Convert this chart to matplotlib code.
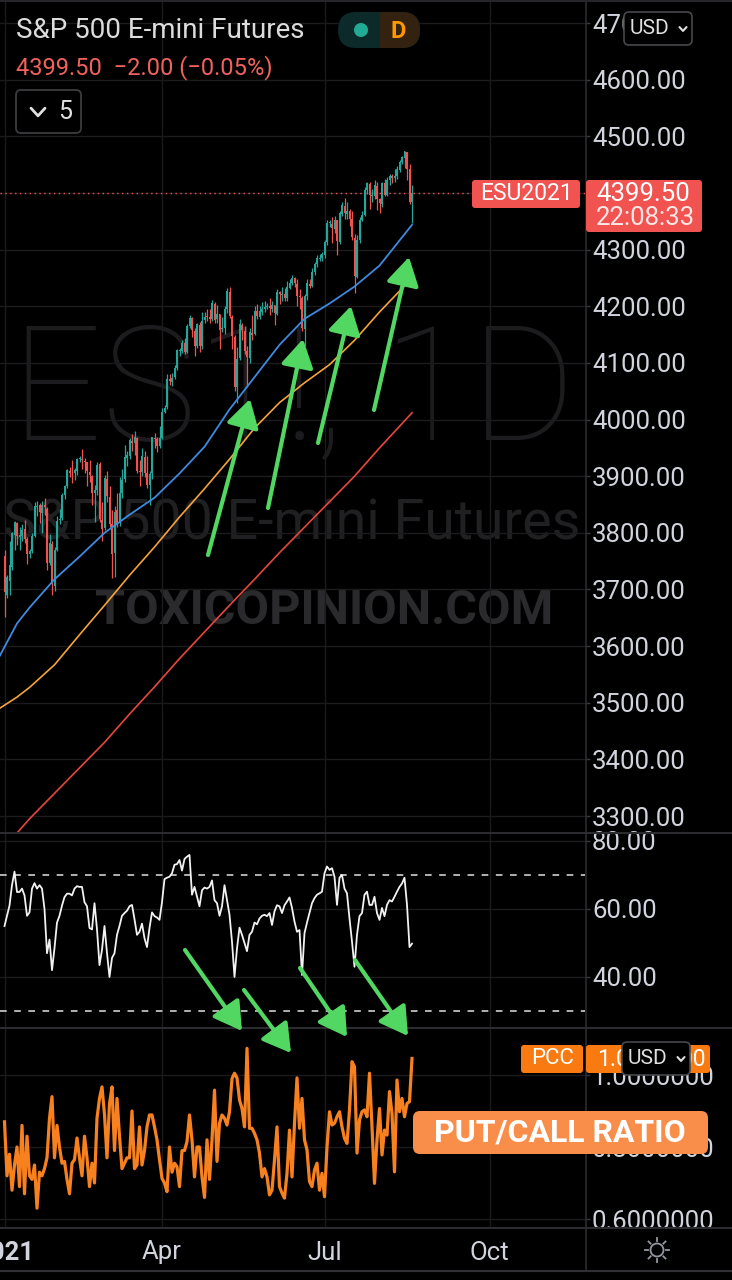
import numpy as np
import pandas as pd
import matplotlib
matplotlib.use("Agg")
import matplotlib.pyplot as plt
import matplotlib.transforms as mtransforms
from matplotlib.patches import FancyBboxPatch, FancyArrowPatch, Circle, Rectangle
from matplotlib.lines import Line2D

plt.rcParams["font.family"] = ["Roboto", "DejaVu Sans"]

# ---------------- data ----------------
symbol = "S&P 500 E-mini Futures"
quote = "4399.50  \u22122.00 (\u22120.05%)"
last_price = 4399.50
countdown = "22:08:33"
contract = "ESU2021"

# daily ES bars, Jan 4 .. Aug 19 2021 (one row per week)
opens = [
    3760, 3690, 3715, 3740, 3797,  3818, 3793, 3795, 3806, 3790,
    3763, 3768, 3795, 3846, 3849,  3835, 3850, 3843, 3746, 3781,
    3706, 3770, 3822, 3826, 3866,  3882, 3910, 3906, 3905, 3910,
    3930, 3931, 3927, 3925, 3908,  3900, 3870, 3875, 3921, 3823,
    3808, 3896, 3864, 3815, 3764,  3840, 3818, 3870, 3895, 3933,
    3936, 3963, 3958, 3968, 3909,  3907, 3934, 3906, 3885, 3905,
    3968, 3965, 3953, 3968, 4014,  4022, 4072, 4067, 4075, 4091,
    4122, 4121, 4136, 4120, 4166,  4180, 4157, 4130, 4167, 4130,
    4176, 4182, 4181, 4178, 4205,  4177, 4186, 4160, 4161, 4195,
    4226, 4182, 4146, 4058, 4108,  4167, 4157, 4121, 4109, 4153,
    4151, 4192, 4182, 4190, 4195,  4199, 4200, 4196, 4203, 4187,
    4225, 4220, 4222, 4214, 4233,  4242, 4250, 4240, 4218, 4215,
    4160, 4218, 4240, 4236, 4260,  4275, 4284, 4286, 4291, 4313,
    4347, 4346, 4337, 4352, 4314,  4363, 4378, 4363, 4368, 4354,
    4321, 4252, 4317, 4352, 4362,  4405, 4416, 4395, 4394, 4413,
    4389, 4381, 4417, 4396, 4423,  4430, 4426, 4430, 4441, 4455,
    4462, 4473, 4442, 4384,
]
highs = [
    3770, 3725, 3785, 3802, 3821,  3820, 3810, 3815, 3822, 3792,
    3772, 3800, 3855, 3856, 3852,  3856, 3862, 3845, 3798, 3785,
    3775, 3830, 3842, 3870, 3885,  3913, 3917, 3928, 3914, 3933,
    3936, 3948, 3932, 3925, 3928,  3903, 3885, 3925, 3925, 3855,
    3902, 3910, 3882, 3840, 3848,  3870, 3898, 3913, 3955, 3945,
    3968, 3975, 3980, 3970, 3928,  3950, 3945, 3935, 3910, 3970,
    3976, 3970, 3988, 4020, 4026,  4080, 4080, 4082, 4097, 4125,
    4127, 4140, 4145, 4168, 4185,  4181, 4162, 4170, 4172, 4190,
    4190, 4195, 4196, 4212, 4208,  4202, 4186, 4182, 4200, 4232,
    4234, 4184, 4150, 4128, 4178,  4170, 4165, 4130, 4162, 4185,
    4201, 4205, 4200, 4208, 4210,  4206, 4214, 4210, 4203, 4230,
    4228, 4235, 4232, 4244, 4248,  4256, 4252, 4248, 4230, 4218,
    4222, 4248, 4249, 4268, 4279,  4290, 4293, 4296, 4318, 4352,
    4352, 4358, 4360, 4352, 4368,  4384, 4391, 4385, 4372, 4368,
    4328, 4326, 4358, 4368, 4410,  4420, 4419, 4408, 4424, 4419,
    4391, 4420, 4425, 4428, 4434,  4433, 4443, 4447, 4458, 4465,
    4475, 4473, 4452, 4414,
]
lows = [
    3652, 3685, 3690, 3735, 3770,  3778, 3770, 3785, 3782, 3745,
    3755, 3765, 3792, 3830, 3818,  3800, 3832, 3735, 3744, 3690,
    3698, 3768, 3815, 3822, 3860,  3880, 3898, 3888, 3893, 3902,
    3925, 3913, 3905, 3882, 3890,  3850, 3820, 3867, 3820, 3785,
    3805, 3855, 3810, 3720, 3722,  3810, 3812, 3862, 3890, 3918,
    3930, 3945, 3938, 3905, 3882,  3900, 3898, 3880, 3850, 3895,
    3950, 3943, 3950, 3965, 4012,  4018, 4062, 4060, 4072, 4087,
    4113, 4118, 4116, 4118, 4162,  4146, 4112, 4127, 4120, 4125,
    4170, 4175, 4170, 4174, 4170,  4170, 4125, 4155, 4152, 4188,
    4180, 4125, 4050, 4030, 4105,  4140, 4115, 4058, 4100, 4140,
    4150, 4178, 4178, 4185, 4190,  4195, 4185, 4190, 4167, 4185,
    4205, 4210, 4210, 4210, 4230,  4238, 4235, 4200, 4195, 4156,
    4130, 4212, 4232, 4235, 4255,  4270, 4280, 4280, 4286, 4308,
    4340, 4312, 4330, 4290, 4310,  4360, 4355, 4355, 4342, 4318,
    4224, 4250, 4312, 4350, 4360,  4398, 4372, 4385, 4390, 4370,
    4365, 4375, 4395, 4395, 4414,  4418, 4420, 4425, 4438, 4452,
    4445, 4423, 4380, 4347,
]
closes = [
    3695, 3722, 3743, 3799, 3820,  3795, 3796, 3805, 3790, 3763,
    3768, 3794, 3847, 3848, 3836,  3850, 3845, 3746, 3782, 3709,
    3769, 3821, 3825, 3867, 3882,  3911, 3906, 3905, 3911, 3930,
    3932, 3928, 3926, 3909, 3902,  3871, 3876, 3920, 3824, 3806,
    3897, 3865, 3815, 3763, 3837,  3816, 3870, 3894, 3934, 3938,
    3964, 3958, 3969, 3910, 3908,  3935, 3905, 3884, 3904, 3969,
    3966, 3953, 3967, 4014, 4020,  4072, 4068, 4074, 4092, 4123,
    4122, 4136, 4119, 4165, 4180,  4158, 4130, 4168, 4130, 4175,
    4182, 4181, 4178, 4206, 4176,  4187, 4159, 4162, 4196, 4227,
    4183, 4147, 4058, 4107, 4168,  4158, 4122, 4110, 4154, 4150,
    4192, 4183, 4191, 4195, 4199,  4200, 4197, 4203, 4188, 4225,
    4221, 4222, 4214, 4234, 4242,  4250, 4241, 4218, 4216, 4161,
    4219, 4241, 4236, 4261, 4275,  4285, 4286, 4292, 4314, 4347,
    4347, 4338, 4353, 4315, 4364,  4379, 4364, 4369, 4355, 4322,
    4253, 4318, 4353, 4362, 4406,  4417, 4396, 4395, 4414, 4390,
    4382, 4418, 4397, 4424, 4431,  4427, 4431, 4442, 4455, 4463,
    4474, 4443, 4385, 4399.5,
]

# moving averages (50 / 100 / 200), sampled about weekly
ma_dates = ["2020-12-31", "2021-01-11", "2021-01-18", "2021-02-01", "2021-02-15", "2021-03-01",
            "2021-03-15", "2021-03-29", "2021-04-12", "2021-04-26", "2021-05-10",
            "2021-05-24", "2021-06-07", "2021-06-21", "2021-07-05", "2021-07-19",
            "2021-08-02", "2021-08-19"]
ma50 = [3582, 3640, 3668, 3718, 3758, 3800, 3832, 3862, 3905, 3952, 4018,
        4075, 4132, 4178, 4205, 4235, 4272, 4344]
ma100 = [3490, 3510, 3527, 3567, 3620, 3672, 3725, 3775, 3828, 3878, 3930,
         3985, 4030, 4065, 4097, 4140, 4190, 4250]
ma200 = [3245, 3270, 3295, 3340, 3385, 3430, 3480, 3528, 3578, 3625, 3672,
         3718, 3765, 3810, 3855, 3900, 3950, 4012]

rsi = [
    55, 58, 61, 67, 71,  65, 65, 66, 64, 58,
    59, 66, 67.6, 66, 67,  66, 60, 47, 51, 42,
    48.5, 56, 58, 61, 63.5,  64.5, 64.5, 64, 66, 66.7,
    66.5, 66.5, 62, 60.8, 54.4,  54, 61.7, 54, 43.5, 48,
    55, 47, 40, 45.6, 47,  52.4, 55, 58, 58.8, 59.5,
    60.8, 61.2, 57, 52.4, 53.3,  55.7, 51.4, 48.8, 54.4, 59,
    57.9, 57.5, 56.8, 62, 68.8,  69.2, 69.5, 70.5, 73, 73.2,
    74.4, 71.3, 74.7, 75.4, 75.9,  64.2, 66.5, 63.6, 60.8, 65.5,
    66.3, 66, 66.5, 68.4, 62.6,  61.7, 58, 60.8, 67, 62.6,
    58.3, 50.4, 40, 48.4, 54.5,  52.4, 50, 47.6, 52.4, 53.3,
    56, 55.5, 57.2, 58, 58.3,  57.9, 58.8, 55.3, 59.3, 61.1,
    60.8, 58.8, 61.1, 62.2, 63.4,  60.3, 56.3, 53.3, 53.8, 40.6,
    52.9, 56, 58.8, 61.7, 63.2,  64.2, 64.6, 65.1, 70.5, 72.5,
    71.5, 72, 69.5, 61.2, 69.2,  70, 66, 64.6, 57.2, 50.4,
    43, 52.4, 57.9, 58.8, 64.2,  65.1, 61.2, 61.2, 63.6, 58.8,
    56.8, 60.3, 57.9, 61.2, 62.6,  62.2, 63.6, 65.1, 66.5, 67.5,
    69.2, 61.2, 48.8, 49.8,
]

pcc = [
    0.87, 0.72, 0.78, 0.68, 0.75,  0.80, 0.69, 0.86, 0.67, 0.83,
    0.72, 0.71, 0.75, 0.63, 0.73,  0.72, 0.74, 0.77, 0.88, 0.94,
    0.77, 0.86, 0.80, 0.755, 0.76,  0.71, 0.67, 0.755, 0.765, 0.825,
    0.77, 0.72, 0.83, 0.77, 0.69,  0.755, 0.70, 0.88, 0.935, 0.967,
    0.89, 0.77, 0.92, 0.967, 0.79,  0.935, 0.83, 0.74, 0.755, 0.77,
    0.77, 0.90, 0.74, 0.75, 0.856,  0.75, 0.79, 0.856, 0.889, 0.889,
    0.856, 0.82, 0.765, 0.713, 0.70,  0.676, 0.80, 0.73, 0.755, 0.745,
    0.69, 0.79, 0.79, 0.815, 0.889,  0.82, 0.717, 0.80, 0.80, 0.717,
    0.66, 0.82, 0.71, 0.82, 0.958,  0.76, 0.866, 0.889, 0.88, 0.861,
    0.898, 0.99, 1.005, 0.992, 0.931,  0.907, 0.856, 1.074, 0.852, 0.852,
    0.838, 0.82, 0.783, 0.717, 0.74,  0.717, 0.667, 0.68, 0.764, 0.856,
    0.69, 0.672, 0.658, 0.727, 0.847,  0.717, 0.866, 0.992, 0.852, 0.935,
    0.82, 0.792, 0.704, 0.69, 0.736,  0.755, 0.68, 0.727, 0.662, 0.80,
    0.898, 0.861, 0.866, 0.884, 0.898,  0.856, 0.824, 0.81, 0.903, 1.037,
    1.023, 0.783, 0.875, 0.898, 0.903,  0.884, 1.005, 0.856, 0.699, 0.82,
    0.907, 0.778, 0.847, 0.833, 0.954,  0.893, 0.731, 0.986, 0.898, 0.935,
    0.884, 0.921, 0.926, 1.046,
]
pcc_last = "1.0460000"

tick_dates = ["2021-01-04", "2021-04-01", "2021-07-01", "2021-10-01"]
tick_labels = ["2021", "Apr", "Jul", "Oct"]
price_ticks = list(range(3300, 4800, 100))
rsi_ticks = [40, 60, 80]
pcc_ticks = [0.6, 0.8, 1.0]

# ---------------- colours ----------------
BG = "#000000"
TXT = "#d1d4dc"
GRID = "#1b1b1e"
SEP = "#2b2b30"
UP = "#26a69a"
DOWN = "#ef5350"
TAG = "#f05350"
GREEN = "#52d862"

bar_dates = pd.bdate_range("2021-01-04", "2021-08-19")
calendar = pd.bdate_range("2020-12-31", "2021-10-29")
assert len(bar_dates) == len(closes) == len(opens) == len(highs) == len(lows) == len(rsi) == len(pcc)
x = calendar.get_indexer(bar_dates)
ma_x = calendar.get_indexer(pd.to_datetime(ma_dates))
tick_x = calendar.get_indexer(pd.to_datetime(tick_dates))

o = np.array(opens, float)
h = np.array(highs, float)
l = np.array(lows, float)
c = np.array(closes, float)

W, H = 732, 1280
AX_R = 585
LBL = 18.5
fig = plt.figure(figsize=(W / 100, H / 100), dpi=100, facecolor=BG)
px = mtransforms.Affine2D().scale(1 / W, -1 / H).translate(0, 1) + fig.transFigure


def pane(top, bottom, ylim, yticks, fmt):
    ax = fig.add_axes([0, 1 - bottom / H, AX_R / W, (bottom - top) / H])
    ax.set_facecolor("none")
    ax.set_xlim(0.2, 234.2)
    ax.set_ylim(*ylim)
    ax.set_xticks(tick_x)
    ax.set_yticks(yticks)
    ax.set_yticklabels([fmt.format(v) for v in yticks])
    ax.yaxis.tick_right()
    ax.tick_params(axis="y", length=3.5, width=1, color="#3a3a3e", pad=1.5,
                   labelsize=LBL, labelcolor=TXT)
    ax.tick_params(axis="x", length=0, labelbottom=False)
    ax.grid(True, color=GRID, lw=1)
    ax.set_axisbelow(True)
    for s in ax.spines.values():
        s.set_visible(False)
    return ax


ax_p = pane(0, 833, (3270, 4741), price_ticks, "{:.2f}")
ax_r = pane(833, 1028, (25.0, 82.35), rsi_ticks, "{:.2f}")
ax_c = pane(1028, 1228, (0.575, 1.1306), pcc_ticks, "{:.7f}")

# watermark
wm = dict(transform=px, ha="center", zorder=-1)
fig.text(293, 440, "ES1!, 1D", fontsize=115, fontweight="light", color="#1c1c1e", va="baseline", **wm)
fig.text(292, 540, symbol, fontsize=40, color="#202022", va="baseline", **wm)
fig.text(324, 624, "TOXICOPINION.COM", fontsize=35, fontweight="bold", color="#2a2a2c",
         va="baseline", **wm)

# candles
col = np.where(c >= o, UP, DOWN)
ax_p.vlines(x, l, h, colors=col, lw=0.9, zorder=2)
body = np.maximum(np.abs(c - o), 1.5)
ax_p.bar(x, body, bottom=np.minimum(o, c), width=0.62, color=col, lw=0, zorder=2)

ax_p.plot(ma_x, ma50, color="#3f8ae0", lw=1.3, zorder=3)
ax_p.plot(ma_x, ma100, color="#f5a43a", lw=1.2, zorder=3)
ax_p.plot(ma_x, ma200, color="#e8463f", lw=1.2, zorder=3)
ax_p.axhline(last_price, color=TAG, lw=1, ls=(0, (1, 2.5)), zorder=1)

# RSI
ax_r.plot(x, rsi, color="#f2f2f2", lw=1.3, zorder=3)
for lvl in (70, 30):
    ax_r.axhline(lvl, color="#cfcfcf", lw=1.2, dashes=(4, 4.5), zorder=2)

# put / call
ax_c.plot(x, pcc, color="#f7801f", lw=2.3, zorder=3)
ax_c.tick_params(axis="x", labelbottom=True, labelsize=LBL, labelcolor=TXT, pad=9)
ax_c.set_xticklabels(tick_labels)
ax_c.get_xticklabels()[0].set_fontweight("bold")

# separators
for yy in (833, 1028, 1228):
    fig.add_artist(Line2D([0, W], [yy, yy], transform=px, color=SEP, lw=1.5, zorder=2))
fig.add_artist(Line2D([AX_R + 0.5, AX_R + 0.5], [0, 1270], transform=px, color=SEP, lw=1.2, zorder=2))
fig.add_artist(Line2D([0, W], [1271, 1271], transform=px, color="#303034", lw=1.5, zorder=2))
fig.add_artist(Line2D([0, W], [0.5, 0.5], transform=px, color="#26262a", lw=1.5, zorder=2))


def box(x0, y0, w, h, fc, ec="none", r=4, lw=1.0, z=6):
    fig.add_artist(FancyBboxPatch((x0, y0), w, h, boxstyle=f"round,pad=0,rounding_size={r}",
                                  transform=px, fc=fc, ec=ec, lw=lw, zorder=z))


def chevron(cx, cy, s, color, lw):
    fig.add_artist(Line2D([cx - s, cx, cx + s], [cy - s * 0.55, cy + s * 0.55, cy - s * 0.55],
                          transform=px, color=color, lw=lw, solid_capstyle="round", zorder=9))


# header
fig.text(16, 30, symbol, transform=px, fontsize=20, color="#dcdcdc", va="center", zorder=7)
fig.text(16, 68, quote, transform=px, fontsize=17, color="#f0625d", va="center", zorder=7)
box(16, 90, 65, 43, "none", "#3c3c40", r=5, lw=1.3)
chevron(38, 112, 7, "#e0e0e0", 2)
fig.text(65, 112, "5", transform=px, fontsize=18, color="#e0e0e0", ha="center", va="center", zorder=7)

# interval badge
box(338, 12, 82, 36, "#0d2a2a", r=18)
fig.add_artist(Rectangle((380, 12), 22, 36, transform=px, fc="#33220f", ec="none", zorder=6.1))
box(384, 12, 36, 36, "#33220f", r=18, z=6.1)
fig.add_artist(Circle((361, 30), 7, transform=px, fc="#22ab94", ec="none", zorder=7))
fig.text(398, 31, "D", transform=px, fontsize=17, fontweight="bold", color="#ff9800",
         ha="center", va="center", zorder=7)


def usd_button(x0, y0):
    box(x0, y0, 68, 33, "#000000", "#48484c", r=5, lw=1.2, z=8)
    fig.text(x0 + 6, y0 + 17, "USD", transform=px, fontsize=15, color="#e0e0e0", va="center", zorder=9)
    chevron(x0 + 59, y0 + 17, 3.5, "#e0e0e0", 1.5)


usd_button(624, 12)

# last price tags
box(472, 180, 108, 28, TAG, r=3)
fig.text(526, 194, contract, transform=px, fontsize=16.5, color="#ffffff", ha="center", va="center", zorder=7)
box(586, 180, 116, 52, TAG, r=3)
fig.text(596, 194, f"{last_price:.2f}", transform=px, fontsize=LBL, color="#ffffff", va="center", zorder=7)
fig.text(596, 218, countdown, transform=px, fontsize=LBL, color="#fde7e6", va="center", zorder=7)

# PCC tag
box(521, 1045, 62, 28, "#f97a10", r=3)
box(586, 1045, 124, 28, "#f97a10", r=3)
fig.text(531, 1059, "PCC", transform=px, fontsize=16, color="#ffffff", va="center", zorder=7)
fig.text(597, 1059, pcc_last, transform=px, fontsize=16.5, color="#ffffff", va="center", zorder=7)
usd_button(622, 1042)

# PUT/CALL RATIO label
box(413, 1111, 295, 43, "#f98e4b", r=7)
fig.text(560, 1133, "PUT/CALL RATIO", transform=px, fontsize=23, fontweight="bold", color="#ffffff",
         ha="center", va="center", zorder=7)

# settings icon
fig.add_artist(Circle((657, 1250), 6.5, transform=px, fc="none", ec="#9598a1", lw=1.3, zorder=7))
for ang in np.deg2rad(np.arange(0, 360, 45)):
    fig.add_artist(Line2D([657 + 9 * np.cos(ang), 657 + 12 * np.cos(ang)],
                          [1250 + 9 * np.sin(ang), 1250 + 12 * np.sin(ang)],
                          transform=px, color="#9598a1", lw=1.3, zorder=7))

# hand drawn green arrows
arrows = [((208, 555), (250, 399)), ((268, 508), (303, 339)), ((318, 443), (351, 306)),
          ((374, 410), (409, 257)),
          ((185, 950), (242, 1031)), ((244, 990), (291, 1053)), ((300, 968), (347, 1037)),
          ((355, 960), (408, 1036))]
for a, b in arrows:
    fig.add_artist(FancyArrowPatch(a, b, transform=px, arrowstyle="-|>,head_length=0.85,head_width=0.5",
                                   mutation_scale=20, lw=3, color=GREEN, shrinkA=0, shrinkB=0, zorder=5))

fig.savefig("out.png", dpi=100, facecolor=BG)
